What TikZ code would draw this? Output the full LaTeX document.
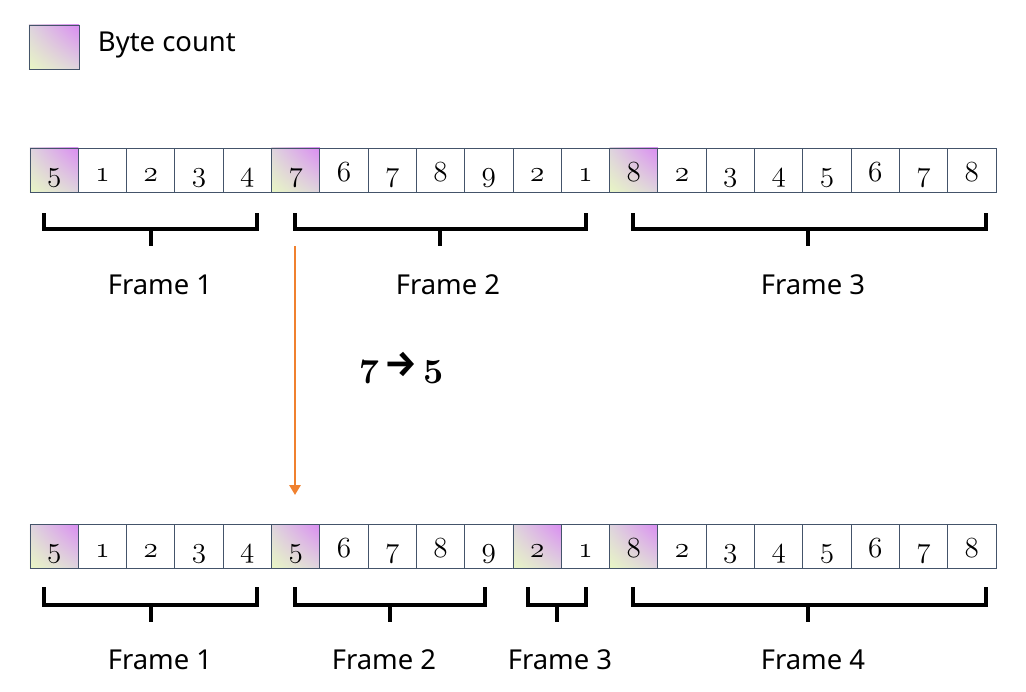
\documentclass[tikz,border=0pt]{standalone}
\usepackage{fontspec}
\usetikzlibrary{arrows.meta,shadings}
\newfontfamily\labelfont{Noto Sans}
\newfontfamily\arrowfont{Fira Sans}
\newcommand{\osd}[1]{{\usefont{OML}{cmm}{m}{it}#1}}
\newcommand{\osdb}[1]{{\usefont{OML}{cmm}{b}{it}#1}}
\definecolor{cellline}{HTML}{44546A}
\definecolor{countpurple}{HTML}{DA8CF2}
\definecolor{countgreen}{HTML}{E8F6C4}
\definecolor{countgray}{HTML}{DED4DE}
\definecolor{flow}{HTML}{F0812F}

\begin{document}
\begin{tikzpicture}[x=0.025cm,y=-0.025cm,
  cell/.style={draw=cellline,line width=0.7pt,minimum width=1.2075cm,minimum height=1.1cm,
    inner sep=0pt,text height=0.7cm,text depth=0.15cm,font=\fontsize{22.5}{22.5}\selectfont},
  count/.style={cell,shade,upper right=countpurple,lower left=countgreen,
    upper left=countgray,lower right=countgray},
  bracket/.style={line width=2.2pt},
  framelabel/.style={font=\labelfont\fontsize{19.5}{19.5}\selectfont}]
  \useasboundingbox (0,0) rectangle (1026,691);

  % legend
  \node [count,minimum width=1.25cm] (key) at (54,47) {};
  \node [framelabel,anchor=west] (keytext) at (93,45) {Byte count};

  % received bytes
  \foreach \v/\s [count=\i from 0] in {5/count,1/cell,2/cell,3/cell,4/cell,7/count,6/cell,7/cell,
      8/cell,9/cell,2/cell,1/cell,8/count,2/cell,3/cell,4/cell,5/cell,6/cell,7/cell,8/cell} {
    \node [\s] (t\i) at ({30+48.3*(\i+0.5)},170) {\osd{\v}};
  }
  \draw[bracket] (44,213) |- (257,229) -- (257,213);
  \draw[bracket] (151,229) -- (151,246);
  \draw[bracket] (295,213) |- (586,229) -- (586,213);
  \draw[bracket] (440,229) -- (440,246);
  \draw[bracket] (633,213) |- (986,229) -- (986,213);
  \draw[bracket] (808,229) -- (808,246);
  \node [framelabel] (tf1) at (160,285) {Frame 1};
  \node [framelabel] (tf2) at (448,285) {Frame 2};
  \node [framelabel] (tf3) at (813,285) {Frame 3};

  % corrected count
  \coordinate (from) at (295,246);
  \coordinate (to) at (295,495);
  \draw[flow,line width=1.5pt,-{Triangle[length=0.25cm,width=0.28cm]}] (from) -- (to);
  \node [font=\fontsize{24}{24}\selectfont] (fix) at (401,368)
    {\osdb{7}\,{\arrowfont\bfseries\fontsize{26}{26}\selectfont →}\,\osdb{5}};

  % reframed bytes
  \foreach \v/\s [count=\i from 0] in {5/count,1/cell,2/cell,3/cell,4/cell,5/count,6/cell,7/cell,
      8/cell,9/cell,2/count,1/cell,8/count,2/cell,3/cell,4/cell,5/cell,6/cell,7/cell,8/cell} {
    \node [\s] (b\i) at ({30+48.3*(\i+0.5)},546) {\osd{\v}};
  }
  \draw[bracket] (44,587) |- (257,605) -- (257,587);
  \draw[bracket] (151,605) -- (151,622);
  \draw[bracket] (295,587) |- (485,605) -- (485,587);
  \draw[bracket] (390,605) -- (390,622);
  \draw[bracket] (528,587) |- (586,605) -- (586,587);
  \draw[bracket] (557,605) -- (557,622);
  \draw[bracket] (633,587) |- (986,605) -- (986,587);
  \draw[bracket] (808,605) -- (808,622);
  \node [framelabel] (bf1) at (160,660) {Frame 1};
  \node [framelabel] (bf2) at (384,660) {Frame 2};
  \node [framelabel] (bf3) at (560,660) {Frame 3};
  \node [framelabel] (bf4) at (813,660) {Frame 4};
\end{tikzpicture}
\end{document}
